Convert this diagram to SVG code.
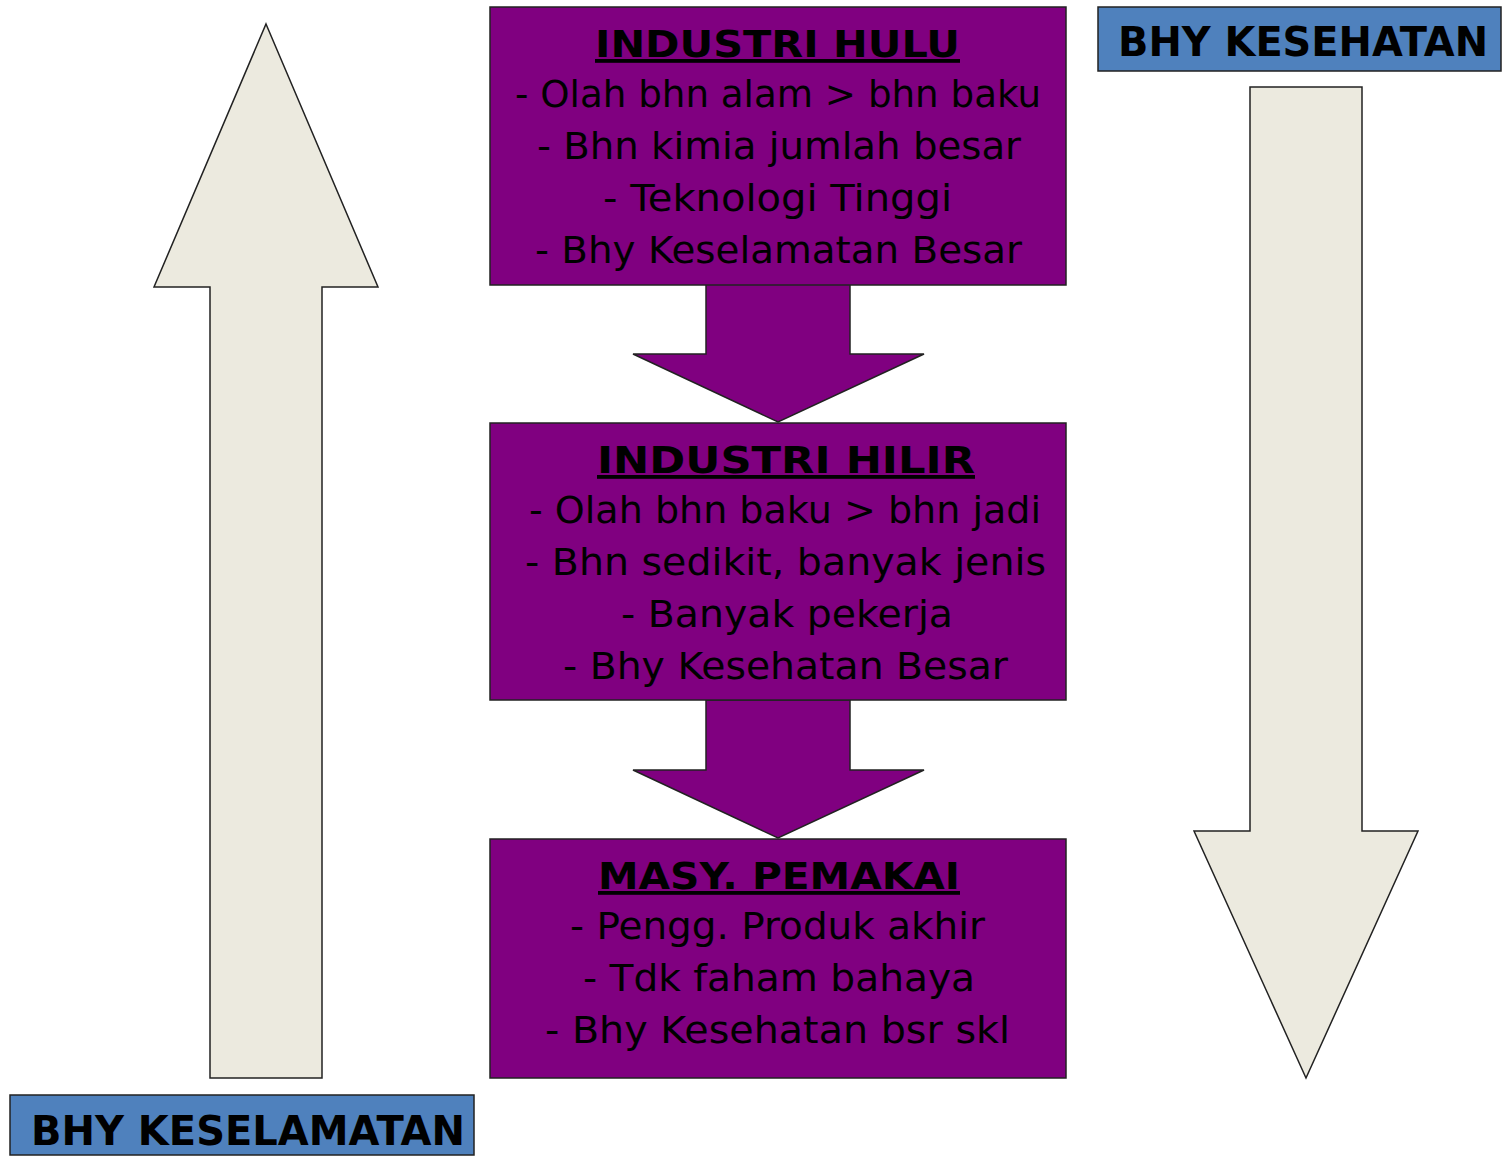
<svg xmlns="http://www.w3.org/2000/svg" width="1502" height="1156" viewBox="0 0 1502 1156">
<style>
.box{fill:#800080;stroke:#222;stroke-width:1.5}
.big{fill:#ECEADF;stroke:#222;stroke-width:1.5}
.lbl{fill:#4F81BD;stroke:#222;stroke-width:1.5}
text{font-family:"DejaVu Sans","Liberation Sans",sans-serif;fill:#000}
.t{font-size:38px;font-weight:bold;text-decoration:underline}
.b{font-size:38px}
.l{font-size:40px;font-weight:bold}
</style>
<rect width="1502" height="1156" fill="#fff"/>
<g id="connectors">
<polygon class="big" points="266,24 378,287 322,287 322,1078 210,1078 210,287 154,287"/>
<polygon class="big" points="1250,87 1362,87 1362,831 1418,831 1306,1078 1194,831 1250,831"/>
<polygon class="box" points="706,284 850,284 850,354 924,354 778,422 633,354 706,354"/>
<polygon class="box" points="706,700 850,700 850,770 924,770 778,838 633,770 706,770"/>
</g>
<g id="industri-hulu">
<rect class="box" x="490" y="7" width="576" height="278"/>
<text class="t" x="595" y="57" textLength="365" lengthAdjust="spacingAndGlyphs">INDUSTRI HULU</text>
<text class="b" x="515" y="107" textLength="526" lengthAdjust="spacingAndGlyphs">- Olah bhn alam &gt; bhn baku</text>
<text class="b" x="537" y="159" textLength="484" lengthAdjust="spacingAndGlyphs">- Bhn kimia jumlah besar</text>
<text class="b" x="603" y="211" textLength="349" lengthAdjust="spacingAndGlyphs">- Teknologi Tinggi</text>
<text class="b" x="535" y="263" textLength="487" lengthAdjust="spacingAndGlyphs">- Bhy Keselamatan Besar</text>
</g>
<g id="industri-hilir">
<rect class="box" x="490" y="423" width="576" height="277"/>
<text class="t" x="597" y="473" textLength="378" lengthAdjust="spacingAndGlyphs">INDUSTRI HILIR</text>
<text class="b" x="529" y="523" textLength="512" lengthAdjust="spacingAndGlyphs">- Olah bhn baku &gt; bhn jadi</text>
<text class="b" x="525" y="575" textLength="521" lengthAdjust="spacingAndGlyphs">- Bhn sedikit, banyak jenis</text>
<text class="b" x="621" y="627" textLength="332" lengthAdjust="spacingAndGlyphs">- Banyak pekerja</text>
<text class="b" x="563" y="679" textLength="445" lengthAdjust="spacingAndGlyphs">- Bhy Kesehatan Besar</text>
</g>
<g id="masy-pemakai">
<rect class="box" x="490" y="839" width="576" height="239"/>
<text class="t" x="598" y="889" textLength="362" lengthAdjust="spacingAndGlyphs">MASY. PEMAKAI</text>
<text class="b" x="570" y="939" textLength="415" lengthAdjust="spacingAndGlyphs">- Pengg. Produk akhir</text>
<text class="b" x="583" y="991" textLength="392" lengthAdjust="spacingAndGlyphs">- Tdk faham bahaya</text>
<text class="b" x="545" y="1043" textLength="465" lengthAdjust="spacingAndGlyphs">- Bhy Kesehatan bsr skl</text>
</g>
<g id="bhy-kesehatan">
<rect class="lbl" x="1098" y="7" width="403" height="64"/>
<text class="l" x="1118" y="56" textLength="370" lengthAdjust="spacingAndGlyphs">BHY KESEHATAN</text>
</g>
<g id="bhy-keselamatan">
<rect class="lbl" x="10" y="1095" width="464" height="60"/>
<text class="l" x="31" y="1145" textLength="434" lengthAdjust="spacingAndGlyphs">BHY KESELAMATAN</text>
</g>
</svg>
